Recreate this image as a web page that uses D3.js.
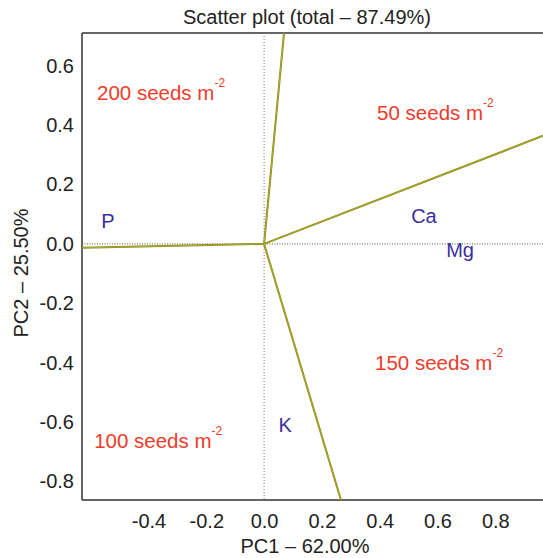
<!DOCTYPE html>
<html><head><meta charset="utf-8">
<script src="https://cdn.jsdelivr.net/npm/d3@7"></script>
<style>body{margin:0;background:#fff}svg{display:block;font-family:"Liberation Sans",Arial,sans-serif}</style>
</head><body><svg id="c" width="543" height="558"></svg>
<script>
const xTicks = [-0.4,-0.2,0.0,0.2,0.4,0.6,0.8];
const yTicks = [0.6,0.4,0.2,0.0,-0.2,-0.4,-0.6,-0.8];
const vecNames = ["top","right","left","bottom"];
const vecX = [0.069, 0.965, -0.63, 0.266];
const vecY = [0.71, 0.364, -0.013, -0.862];
const varNames = ["P","Ca","Mg","K"];
const varX = [-0.54, 0.553, 0.678, 0.073];
const varY = [0.077, 0.094, -0.02, -0.61];
const grpNames = ["200 seeds m","50 seeds m","150 seeds m","100 seeds m"];
const grpX = [-0.578, 0.391, 0.384, -0.588];
const grpY = [0.512, 0.444, -0.397, -0.66];

const svg = d3.select("#c");
const L=82,T=33,R=543,B=500;
const x = d3.scaleLinear().domain([-0.63,0.965]).range([L,R]);
const y = d3.scaleLinear().domain([-0.862,0.71]).range([B,T]);

svg.append("clipPath").attr("id","cp").append("rect").attr("x",L).attr("y",T).attr("width",R-L).attr("height",B-T);

svg.append("line").attr("x1",L).attr("x2",L).attr("y1",T).attr("y2",B).attr("stroke","#333").attr("stroke-width",1.5);
svg.append("line").attr("x1",L).attr("x2",R).attr("y1",T).attr("y2",T).attr("stroke","#333").attr("stroke-width",1.5);
svg.append("line").attr("x1",L).attr("x2",R).attr("y1",B).attr("y2",B).attr("stroke","#333").attr("stroke-width",1.5);

const g = svg.append("g").attr("clip-path","url(#cp)");
g.append("line").attr("x1",x(0)).attr("x2",x(0)).attr("y1",T).attr("y2",B).attr("stroke","#7a7a50").attr("stroke-width",1).attr("stroke-dasharray","1,2");
g.append("line").attr("x1",L).attr("x2",R).attr("y1",y(0)).attr("y2",y(0)).attr("stroke","#555540").attr("stroke-width",1).attr("stroke-dasharray","1,1.5");

vecX.forEach((vx,i)=>{
  g.append("line").attr("x1",x(0)).attr("y1",y(0)).attr("x2",x(vx)).attr("y2",y(vecY[i]))
   .attr("stroke","#85851a").attr("stroke-width",2);
  g.append("line").attr("x1",x(0)).attr("y1",y(0)).attr("x2",x(vx)).attr("y2",y(vecY[i]))
   .attr("stroke","#c8c83a").attr("stroke-width",0.6);
});

const fmt = d=>d3.format(".1f")(d).replace("−","-");
const xa = svg.append("g").attr("transform",`translate(0,${B})`).call(d3.axisBottom(x).tickValues(xTicks).tickFormat(fmt).tickSize(0).tickPadding(14));
const ya = svg.append("g").attr("transform",`translate(${L},0)`).call(d3.axisLeft(y).tickValues(yTicks).tickFormat(fmt).tickSize(0).tickPadding(8));
[xa,ya].forEach(a=>{a.select(".domain").remove();a.selectAll("text").attr("font-size",20).attr("fill","#222").attr("font-family","Liberation Sans, Arial, sans-serif");});

varNames.forEach((n,i)=>{
  svg.append("text").attr("x",x(varX[i])).attr("y",y(varY[i])).attr("text-anchor","middle").attr("dominant-baseline","central")
   .attr("font-size",20).attr("fill","#3a2f9a").text(n);
});
grpNames.forEach((n,i)=>{
  const t = svg.append("text").attr("x",x(grpX[i])).attr("y",y(grpY[i])).attr("dominant-baseline","central")
   .attr("font-size",20.5).attr("fill","#ee3b2a");
  t.append("tspan").text(n);
  t.append("tspan").attr("font-size",12).attr("dy",-9).text("-2");
});

svg.append("text").attr("x",307).attr("y",24).attr("text-anchor","middle").attr("font-size",20).attr("fill","#222").text("Scatter plot (total – 87.49%)");
svg.append("text").attr("x",305).attr("y",553).attr("text-anchor","middle").attr("font-size",20).attr("fill","#222").text("PC1 – 62.00%");
svg.append("text").attr("transform","translate(28,273) rotate(-90)").attr("text-anchor","middle").attr("font-size",20).attr("fill","#222").text("PC2 – 25.50%");
</script></body></html>
